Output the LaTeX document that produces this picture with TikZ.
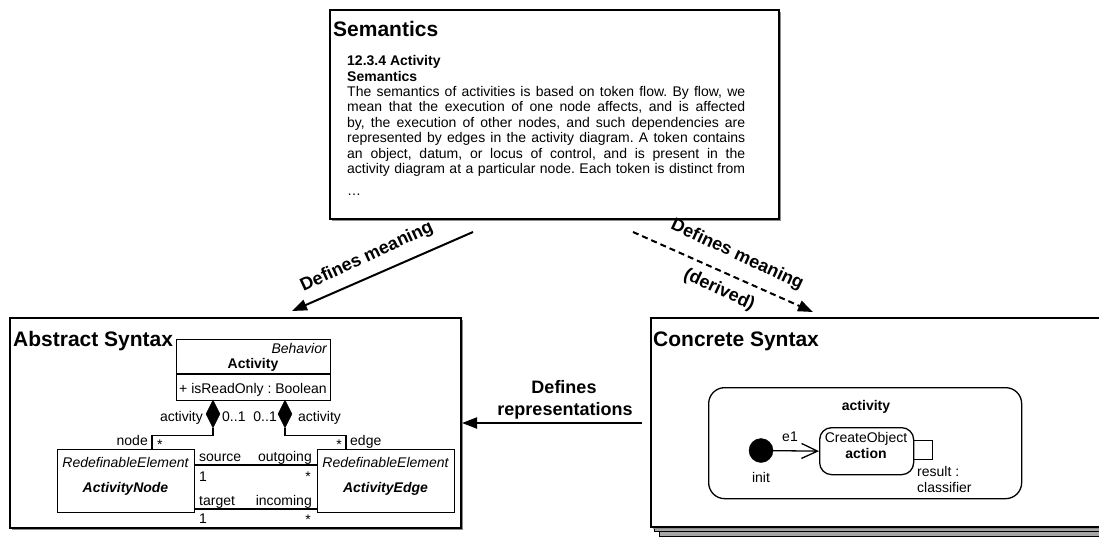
\documentclass[tikz,border=0pt]{standalone}
\usepackage{fontspec}
\setmainfont{Liberation Sans}
\usetikzlibrary{arrows.meta,shapes.geometric,shadows}
\frenchspacing
\begin{document}
\begin{tikzpicture}[x=1pt,y=-1pt,
  frame/.style={draw, line width=1.5pt, fill=white, inner sep=0pt, anchor=north west,
    drop shadow={shadow xshift=1.8pt, shadow yshift=-1.8pt, fill=black!45, opacity=1}},
  layer/.style={draw, line width=1.3pt, fill=black!35, inner sep=0pt, anchor=north west},
  umlbox/.style={draw, line width=1.2pt, inner sep=0pt, anchor=north west},
  dia/.style={shape=diamond, draw, fill=black, inner sep=0pt, minimum width=14pt, minimum height=28pt},
  ttl/.style={inner sep=0pt, anchor=base west, font=\fontsize{21}{24}\selectfont\bfseries},
  txt/.style={inner sep=0pt, anchor=base west, font=\fontsize{14}{16}\selectfont},
  arrlbl/.style={inner sep=0pt, font=\fontsize{18}{21}\selectfont\bfseries},
  bigarrow/.style={line width=2pt, -{Triangle[length=15pt,width=11pt]}},
  uml/.style={line width=1.2pt}
]
\path[use as bounding box] (0,0) rectangle (1099,538);
\clip (0,0) rectangle (1099,538);

% ---------------- Semantics ----------------
\node[frame, minimum width=449pt, minimum height=209pt] (sem) at (329,9) {};
\node[ttl] (semT) at (333,36) {Semantics};
\node[txt, font=\fontsize{14}{16}\selectfont\bfseries] (h1) at (347,65) {12.3.4 Activity};
\node[txt, font=\fontsize{14}{16}\selectfont\bfseries] (h2) at (347,81) {Semantics};
\node[txt] (l1) at (347,96) {\makebox[398pt][s]{The semantics of activities is based on token flow. By flow, we}};
\node[txt] (l2) at (347,111.5) {\makebox[398pt][s]{mean that the execution of one node affects, and is affected}};
\node[txt] (l3) at (347,127) {\makebox[398pt][s]{by, the execution of other nodes, and such dependencies are}};
\node[txt] (l4) at (347,142.5) {\makebox[398pt][s]{represented by edges in the activity diagram. A token contains}};
\node[txt] (l5) at (347,158) {\makebox[398pt][s]{an object, datum, or locus of control, and is present in the}};
\node[txt] (l6) at (347,173.5) {\makebox[398pt][s]{activity diagram at a particular node. Each token is distinct from}};
\node[txt] (l7) at (347,195) {…};

% ---------------- Abstract Syntax ----------------
\node[frame, minimum width=451pt, minimum height=210pt] (abs) at (9,317) {};
\node[ttl] (absT) at (13,346) {Abstract Syntax};

\node[umlbox, minimum width=154pt, minimum height=61pt] (actc) at (176,339) {};
\coordinate (div) at (253,374);
\draw[uml] (actc.west |- div) -- (actc.east |- div);
\node[txt, anchor=base east, font=\fontsize{14}{16}\selectfont\itshape] (beh) at (327,353) {Behavior};
\node[txt, anchor=base, font=\fontsize{14}{16}\selectfont\bfseries] (actn) at (253,368) {Activity};
\node[txt] (attr) at (179,393) {+ isReadOnly : Boolean};

\node[dia] (dl) at (213,414) {};
\node[dia] (dr) at (285,414) {};

\node[umlbox, minimum width=137pt, minimum height=63pt] (an) at (57,449) {};
\node[txt, anchor=base, font=\fontsize{14}{16}\selectfont\itshape] (anS) at (125.5,467) {RedefinableElement};
\node[txt, anchor=base, font=\fontsize{14}{16}\selectfont\bfseries\itshape] (anN) at (125.5,492) {ActivityNode};

\node[umlbox, minimum width=137pt, minimum height=63pt] (ae) at (317,449) {};
\node[txt, anchor=base, font=\fontsize{14}{16}\selectfont\itshape] (aeS) at (385.5,467) {RedefinableElement};
\node[txt, anchor=base, font=\fontsize{14}{16}\selectfont\bfseries\itshape] (aeN) at (385.5,492) {ActivityEdge};

\coordinate (nl) at (152,449);
\coordinate (el) at (346,449);
\draw[uml] (dl.south) -- ++(0,7) -| (nl);
\draw[uml] (dr.south) -- ++(0,7) -| (el);

\coordinate (ya) at (0,465);
\coordinate (yb) at (0,509);
\draw[uml] (an.east |- ya) -- (ae.west |- ya);
\draw[uml] (an.east |- yb) -- (ae.west |- yb);

\node[txt, anchor=base east] (lact1) at (203,421) {activity};
\node[txt] (m1) at (222,421) {0..1};
\node[txt, anchor=base east] (m2) at (277,421) {0..1};
\node[txt] (lact2) at (298,421) {activity};
\node[txt, anchor=base east] (lnode) at (148,445) {node};
\node[txt] (snode) at (157,449) {*};
\node[txt, anchor=base east] (sedge) at (342,449) {*};
\node[txt] (ledge) at (350,445) {edge};
\node[txt] (lsrc) at (199,461) {source};
\node[txt] (one1) at (199,481) {1};
\node[txt, anchor=base east] (lout) at (312,461) {outgoing};
\node[txt, anchor=base east] (sout) at (311,481) {*};
\node[txt] (ltgt) at (199,505) {target};
\node[txt] (one2) at (199,523) {1};
\node[txt, anchor=base east] (linc) at (312,505) {incoming};
\node[txt, anchor=base east] (sinc) at (311,524) {*};

% ---------------- Concrete Syntax ----------------
\node[layer, minimum width=460pt, minimum height=209pt] (cs3) at (659,327) {};
\node[layer, minimum width=460pt, minimum height=209pt] (cs2) at (654,322) {};
\node[frame, minimum width=460pt, minimum height=209pt] (cs) at (650,317) {};
\node[ttl] (csT) at (653,346) {Concrete Syntax};

\node[draw, line width=1.3pt, rounded corners=16pt, inner sep=0pt, anchor=north west,
  minimum width=313pt, minimum height=111pt] (actv) at (708,387) {};
\node[txt, anchor=base, font=\fontsize{14}{16}\selectfont\bfseries] (actvT) at (866,410) {activity};

\node[circle, fill=black, draw, inner sep=0pt, minimum size=24pt] (init) at (761,450.5) {};
\node[txt, anchor=base] (initL) at (761,482) {init};

\node[draw, line width=1.3pt, rounded corners=12pt, inner sep=0pt, anchor=north west,
  minimum width=94pt, minimum height=47pt] (action) at (819,427) {};
\node[txt, anchor=base] (co) at (866,442) {CreateObject};
\node[txt, anchor=base, font=\fontsize{14}{16}\selectfont\bfseries] (actL) at (866,458) {action};

\node[draw, line width=1.2pt, inner sep=0pt, anchor=north west,
  minimum width=19pt, minimum height=19pt] (pin) at (913,440) {};
\node[txt] (res1) at (917,476) {result :};
\node[txt] (res2) at (917,492) {classifier};

\draw[line width=1.3pt, -{Straight Barb[length=16pt,width=15pt,line width=1.3pt]}] (init) -- (action.west);
\node[txt, anchor=base] (e1) at (790,441) {e1};

% ---------------- Relations ----------------
\coordinate (a1s) at (473,232);
\coordinate (a1e) at (292,311);
\draw[bigarrow] (a1s) -- (a1e);
\node[arrlbl, rotate=25] (lab1) at (367,257) {Defines meaning};

\coordinate (a2s) at (633,232);
\coordinate (a2e) at (813,312);
\draw[bigarrow, dash pattern=on 6pt off 4pt] (a2s) -- (a2e);
\node[arrlbl, rotate=-25] (lab2) at (737,255) {Defines meaning};
\node[arrlbl, rotate=-25] (lab3) at (719,290) {(derived)};

\coordinate (a3s) at (642,423);
\coordinate (a3e) at (462,423);
\draw[bigarrow] (a3s) -- (a3e);
\node[arrlbl, anchor=base] (lab4) at (564,393) {Defines};
\node[arrlbl, anchor=base] (lab5) at (565,415) {representations};
\end{tikzpicture}
\end{document}
